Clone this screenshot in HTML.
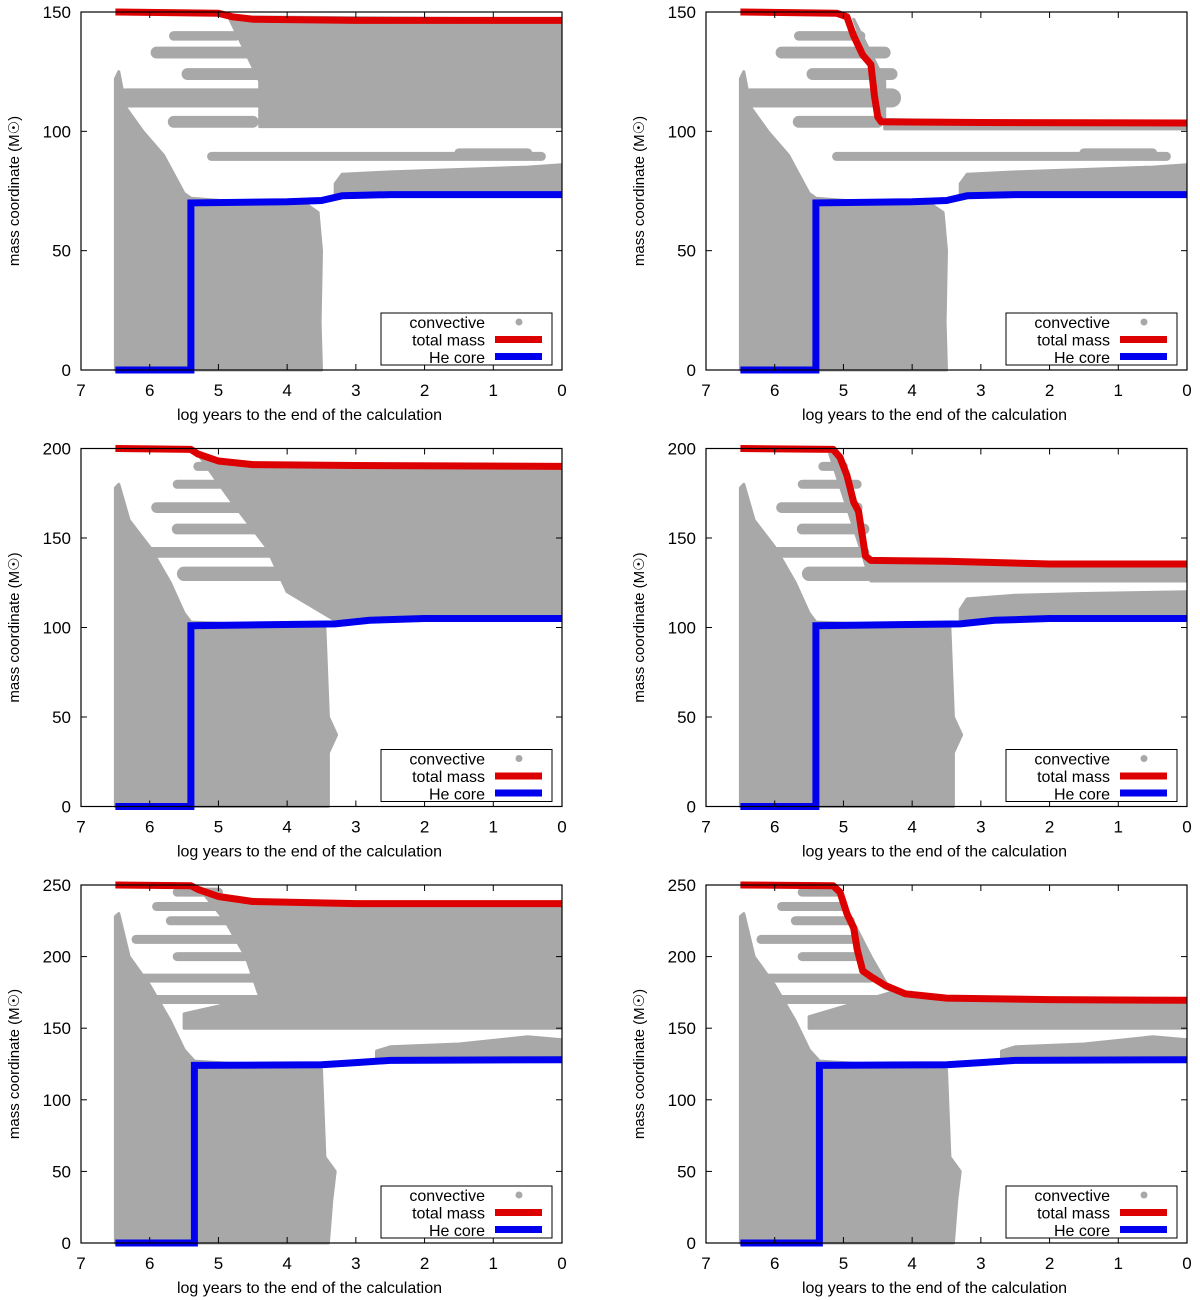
<!DOCTYPE html>
<html><head><meta charset="utf-8"><style>
html,body{margin:0;padding:0;background:#fff}
svg{display:block;font-family:"Liberation Sans",Arial,sans-serif}
</style></head><body>
<svg id="c" width="1200" height="1300" viewBox="0 0 1200 1300" xmlns="http://www.w3.org/2000/svg"></svg>
<script>
const xTicks=[7,6,5,4,3,2,1,0];
const yMaxes=[150,150,200,200,250,250];
const total1=[[6.5,150],[5,149.5],[4.8,148],[4.5,147],[3,146.5],[0,146.5]];
const total2=[[6.5,150],[5.1,149.5],[4.95,148],[4.85,140],[4.72,132],[4.6,128],[4.55,115],[4.5,106],[4.45,104],[3,103.7],[0,103.5]];
const total3=[[6.5,200],[5.4,199.5],[5.3,197],[5.0,193],[4.5,191],[3,190.5],[0,190]];
const total4=[[6.5,200],[5.15,199.5],[5.05,195],[4.95,185],[4.85,170],[4.78,165],[4.72,150],[4.68,140],[4.6,137.5],[3.5,137],[2,135.5],[0,135.5]];
const total5=[[6.5,250],[5.4,249.5],[5.3,247],[5.0,242],[4.5,238.5],[3,237],[0,237]];
const total6=[[6.5,250],[5.15,249.5],[5.05,245],[4.95,230],[4.85,220],[4.8,205],[4.72,190],[4.6,186],[4.4,180],[4.1,174],[3.5,171],[2,170],[0,169.5]];
const core12=[[6.5,0],[5.4,0],[5.4,70],[4,70.5],[3.5,71],[3.2,73],[2.5,73.5],[0,73.5]];
const core34=[[6.5,0],[5.4,0],[5.4,101],[3.3,102],[2.8,104],[2,105],[0,105]];
const core56=[[6.5,0],[5.35,0],[5.35,124],[3.5,124.5],[3,126],[2.5,127.5],[0,128]];
const coreConv12=[[6.5,0],[6.5,122],[6.45,125],[6.35,110],[6.1,100],[5.8,90],[5.5,74],[5.4,72],[4.5,70],[3.7,69],[3.55,66],[3.5,50],[3.52,20],[3.5,0]];
const coreConv34=[[6.5,0],[6.5,178],[6.45,180],[6.3,160],[6,145],[5.7,125],[5.5,108],[5.4,103],[4,101],[3.45,100],[3.4,50],[3.28,40],[3.4,30],[3.4,0]];
const coreConv56=[[6.5,0],[6.5,228],[6.45,230],[6.3,200],[6,180],[5.7,155],[5.5,135],[5.35,127],[4,123],[3.5,121],[3.45,60],[3.3,50],[3.35,30],[3.4,0]];
const env1=[[4.85,148],[0,147],[0,102],[4.4,102],[4.4,121]];
const env2=[[4.85,147],[4.6,127],[4.5,105],[0,103],[0,101],[4.4,101],[4.4,121]];
const env3=[[5.3,197],[4.9,193],[4.5,190],[0,190],[0,104],[3.3,104],[4.0,120],[4.3,145],[4.8,170]];
const env4=[[5.2,197],[5.05,195],[4.85,170],[4.7,140],[4.6,137],[0,135],[0,126],[4.6,126],[4.8,150]];
const env5=[[5.25,246],[5.0,242],[4.5,238],[0,237],[0,150],[5.5,150],[5.5,160],[4.4,172],[4.6,200],[4.9,225]];
const env6=[[5.1,247],[4.9,225],[4.75,195],[4.4,178],[4,171],[0,169],[0,150],[5.5,150],[5.5,158],[4.3,175],[4.6,200]];
const low12=[[3.3,73],[0,73],[0,86],[0.5,85],[1.5,84],[2.5,83],[3.2,82],[3.3,78]];
const low34=[[3.3,104],[0,104],[0,120],[1.5,119],[2.5,118],[3.2,116],[3.3,110]];
const low56=[[2.7,128],[0,128],[0,142],[0.5,144],[1.5,139],[2.5,137],[2.7,134]];
const blobs12=[[5.65,4.75,140,4],[5.9,4.4,133,5],[5.45,4.3,124,5],[6.35,4.3,114,8],[5.65,4.5,104,5],[5.1,0.3,89.5,3],[1.5,0.5,91,3]];
const blobs34=[[5.3,4.8,190,5],[5.6,4.6,180,5],[5.9,4.6,167,6],[5.6,4.0,155,6],[6.35,3.0,142,6],[5.5,0,130,8]];
const blobs4=[[5.3,5.0,190,5],[5.6,4.8,180,5],[5.9,4.8,167,6],[5.6,4.7,155,6],[6.35,4.7,142,6],[5.5,0,130,8]];
const blobs56=[[5.6,5.0,245,5],[5.9,4.8,235,5],[5.7,4.4,225,6],[6.2,4.6,212,6],[5.6,4.2,200,6],[6.3,4.3,185,6],[5.9,4.3,170,6]];
const blobs6=[[5.6,5.1,245,5],[5.9,5.0,235,5],[5.7,4.9,225,6],[6.2,4.85,212,6],[5.6,4.75,200,6],[6.3,4.6,185,6],[5.9,4.3,170,6]];
const panels=[
 {total:total1,core:core12,cc:coreConv12,env:env1,low:low12,blobs:blobs12},
 {total:total2,core:core12,cc:coreConv12,env:env2,low:low12,blobs:blobs12},
 {total:total3,core:core34,cc:coreConv34,env:env3,low:low34,blobs:blobs34},
 {total:total4,core:core34,cc:coreConv34,env:env4,low:low34,blobs:blobs4},
 {total:total5,core:core56,cc:coreConv56,env:env5,low:low56,blobs:blobs56},
 {total:total6,core:core56,cc:coreConv56,env:env6,low:low56,blobs:blobs6}];
const NS="http://www.w3.org/2000/svg";
const svg=document.getElementById('c');
function mk(tag,attrs,parent){const e=document.createElementNS(NS,tag);for(const k in attrs)e.setAttribute(k,attrs[k]);(parent||svg).appendChild(e);return e;}
const GRAY="#a8a8a8";
panels.forEach((p,i)=>{
 const col=i%2,row=Math.floor(i/2);
 const L=81+col*625,R=L+481,T=12+row*436.5,B=T+358;
 const ymax=yMaxes[i];
 const X=t=>L+(7-t)/7*(R-L);
 const Y=m=>B-m/ymax*(B-T);
 const g=mk('g',{});
 
 
 const cp=mk('clipPath',{id:'cp'+i},g);
 mk('rect',{x:L,y:T-4,width:R-L,height:B-T+8},cp);
 const pg=mk('g',{'clip-path':'url(#cp'+i+')'},g);
 const pts=a=>a.map(q=>X(q[0]).toFixed(1)+','+Y(q[1]).toFixed(1)).join(' ');
 [p.cc,p.env,p.low].forEach((poly,k)=>{
  const e=mk('polygon',{points:pts(poly),fill:GRAY,stroke:GRAY,'stroke-width':3,'stroke-linejoin':'round'},pg);
  
  
 });
 p.blobs.forEach(b=>{
  const e=mk('line',{x1:X(b[0]),x2:X(b[1]),y1:Y(b[2]),y2:Y(b[2]),stroke:GRAY,'stroke-width':Math.max(9,b[3]/ymax*358),'stroke-linecap':'round'},pg);
  
  
 });
 const tl=mk('polyline',{points:pts(p.total),fill:'none',stroke:'#dd0000','stroke-width':7,'stroke-linejoin':'round'},pg);
 
 
 const cl=mk('polyline',{points:pts(p.core),fill:'none',stroke:'#0000ee','stroke-width':7},pg);
 
 
 const fr=mk('rect',{x:L,y:T,width:R-L,height:B-T,fill:'none',stroke:'#000','stroke-width':1.2},g);
 
 
 xTicks.forEach(t=>{
  mk('line',{x1:X(t),x2:X(t),y1:B,y2:B-6,stroke:'#000'},g);
  mk('line',{x1:X(t),x2:X(t),y1:T,y2:T+6,stroke:'#000'},g);
  const tx=mk('text',{x:X(t),y:B+26,'font-size':17,'text-anchor':'middle'},g);
  tx.textContent=t;
  
  
 });
 for(let m=0;m<=ymax;m+=50){
  mk('line',{x1:L,x2:L+6,y1:Y(m),y2:Y(m),stroke:'#000'},g);
  mk('line',{x1:R,x2:R-6,y1:Y(m),y2:Y(m),stroke:'#000'},g);
  const tx=mk('text',{x:L-10,y:Y(m)+6,'font-size':17,'text-anchor':'end'},g);
  tx.textContent=m;
  
  
 }
 const xt=mk('text',{x:(L+R)/2-12,y:B+50,'font-size':16,'text-anchor':'middle'},g);
 xt.textContent='log years to the end of the calculation';
 
 
 const yt=mk('text',{x:0,y:0,'font-size':15,'text-anchor':'middle',transform:'translate('+(L-62)+','+((T+B)/2)+') rotate(-90)'},g);
 yt.textContent='mass coordinate (M\u2609)';
 
 
 const lg=mk('g',{},g);
 
 
 const lx=L+300,ly=B-57;
 mk('rect',{x:lx,y:ly,width:171,height:52,fill:'#fff',stroke:'#000','stroke-width':1},lg);
 const labels=['convective','total mass','He core'];
 labels.forEach((s,k)=>{
  const t=mk('text',{x:lx+104,y:ly+15+k*17.5,'font-size':16,'text-anchor':'end'},lg);
  t.textContent=s;
  
  
 });
 mk('circle',{cx:lx+138,cy:ly+9,r:3.5,fill:GRAY},lg);
 mk('rect',{x:lx+114,y:ly+23,width:47,height:7,fill:'#dd0000'},lg);
 mk('rect',{x:lx+114,y:ly+40,width:47,height:7,fill:'#0000ee'},lg);
});
</script>
</body></html>
